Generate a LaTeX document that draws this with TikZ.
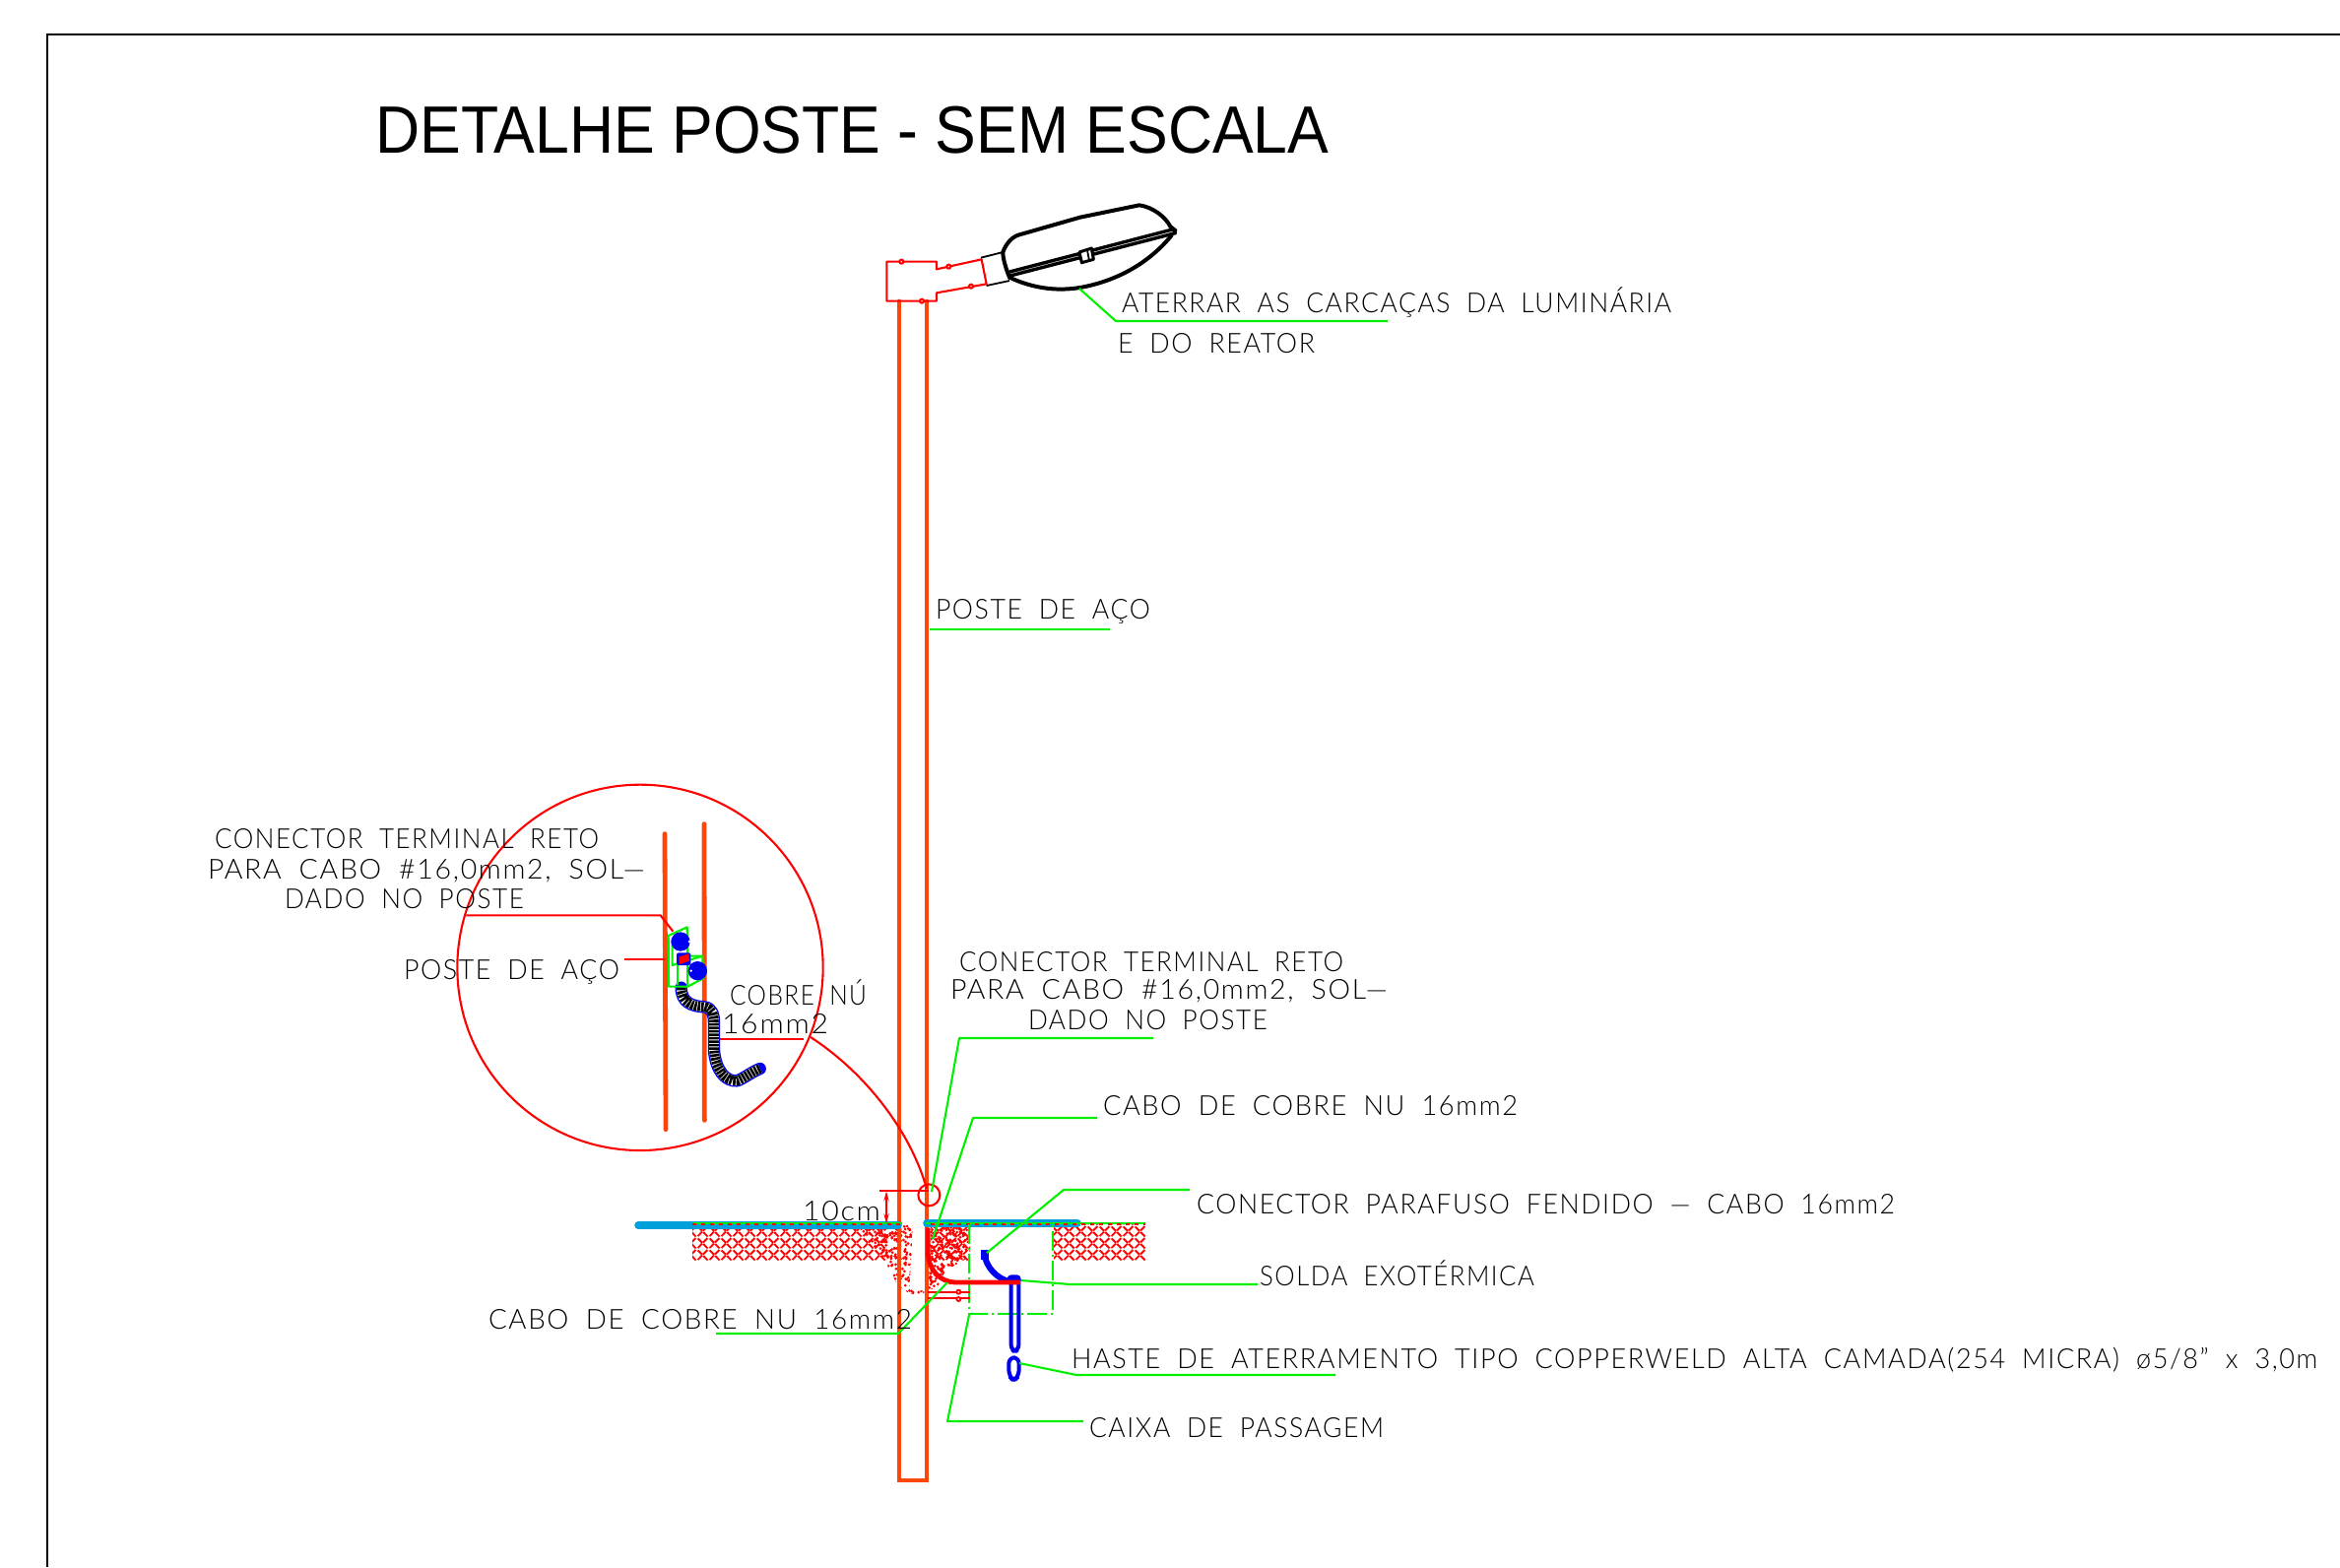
\documentclass[tikz,border=0pt]{standalone}
\usepackage{fontspec}
\usepackage{graphicx}
\usetikzlibrary{patterns,arrows.meta}
\setmainfont{Liberation Sans}
\newfontfamily\cad[WordSpace=1.9,LetterSpace=6]{Lato Light}
\definecolor{orangepole}{RGB}{255,70,10}
\definecolor{leadgreen}{RGB}{0,240,0}
\definecolor{groundblue}{RGB}{0,160,220}
\definecolor{rodblue}{RGB}{0,0,240}
\pgfdeclarepatternformonly{herr}{\pgfpointorigin}{\pgfqpoint{6pt}{6pt}}{\pgfqpoint{6pt}{6pt}}{%
  \pgfsetlinewidth{1pt}%
  \pgfpathmoveto{\pgfqpoint{0.3pt}{0.5pt}}\pgfpathlineto{\pgfqpoint{2.6pt}{2.8pt}}%
  \pgfpathmoveto{\pgfqpoint{5.7pt}{0.3pt}}\pgfpathlineto{\pgfqpoint{3.4pt}{2.6pt}}%
  \pgfpathmoveto{\pgfqpoint{3.3pt}{3.5pt}}\pgfpathlineto{\pgfqpoint{5.6pt}{5.8pt}}%
  \pgfpathmoveto{\pgfqpoint{2.7pt}{3.3pt}}\pgfpathlineto{\pgfqpoint{0.4pt}{5.6pt}}%
  \pgfusepath{stroke}}
\newcommand\cadt[5]{\node[cadtext] (#1) at (#2,#3) {\resizebox{\dimexpr #4pt/2\relax}{\height}{\cad\fontsize{14}{14}\selectfont #5}};}
\tikzset{
  cadtext/.style={anchor=base west,inner sep=0pt,outer sep=0pt,text=black},
  zm/.style 2 args={shift={(#1,#2)},x=0.16667pt,y=-0.16667pt},
  poleline/.style={draw=orangepole,line width=2.4pt,line cap=round},
  redthin/.style={draw=red,line width=1.05pt},
  redbracket/.style={draw=red,line width=1.05pt,line join=round},
  blackthick/.style={draw=black,line width=2pt,line cap=round,line join=round},
  blackthin/.style={draw=black,line width=.9pt},
  leader/.style={draw=leadgreen,line width=1.05pt,line join=round},
  groundline/.style={draw=groundblue,line width=3.8pt,line cap=round},
  rod/.style={draw=rodblue,line width=2pt,line join=round},
  soil/.style={pattern=herr,pattern color=red},
}
\begin{document}
\begin{tikzpicture}[x=0.5pt,y=-0.5pt]
\useasboundingbox (0,0) rectangle (2376,1591);
% frame
\draw[line width=1pt,black] (2376,35) -- (48,35) -- (48,1591);
% title
\node[anchor=base west,inner sep=0pt] (title) at (381,155) {\resizebox{484pt}{\height}{\fontsize{34}{34}\selectfont DETALHE POSTE - SEM ESCALA}};
% ground hatching
\path[soil] (703,1243) rectangle (900,1279);
\path[soil] (945,1243) rectangle (985,1280);
\path[soil] (1070,1243) rectangle (1163,1279);
\pgfmathsetseed{7}
\begin{scope}[zm={880}{1180}]
  \begin{scope}
    \clip (-30,190) -- (140,190) -- (135,300) -- (130,385) -- (175,392) -- (175,405) -- (130,400) -- (95,375) -- (55,300) -- cycle;
    \foreach \i in {1,...,420} {
      \pgfmathsetmacro\xx{-30+205*rnd}
      \pgfmathsetmacro\yy{190+215*rnd}
      \fill[red] (\xx,\yy) circle[radius=4.5];
    }
  \end{scope}
  \begin{scope}
    \clip (178,190) -- (310,190) -- (310,290) -- (240,330) -- (215,380) -- (178,395) -- cycle;
    \foreach \i in {1,...,300} {
      \pgfmathsetmacro\xx{178+132*rnd}
      \pgfmathsetmacro\yy{190+205*rnd}
      \fill[red] (\xx,\yy) circle[radius=4.5];
    }
  \end{scope}
\end{scope}
% pole
\draw[poleline] (913,306) -- (913,1503) -- (941,1503) -- (941,306);
% bracket and luminaire (zoom 1)
\begin{scope}[zm={850}{180}]
  \draw[redbracket] (440,250) -- (303,280) -- (303,257) -- (151,257) -- (151,377) -- (303,377) -- (303,352) -- (455,325) -- cycle;
  \foreach \p in {(196,257),(340,272),(408,332),(258,377)} \draw[redbracket,fill=white] \p circle[radius=6];
  \draw[blackthin] (438,245) -- (505,228) (455,330) -- (525,315);
  \draw[blackthick] (525,305) .. controls (515,280) and (505,250) .. (505,228) .. controls (515,200) and (535,180) .. (555,175) -- (740,122) -- (920,85) .. controls (960,90) and (1000,120) .. (1015,150) -- (1030,162);
  \draw[blackthick] (525,305) .. controls (600,340) and (680,350) .. (760,332) .. controls (860,310) and (950,260) .. (1018,178);
  \draw[blackthick,line width=1.7pt] (525,288) -- (1025,158) -- (1030,170) -- (527,300);
  \draw[blackthick,line width=1.5pt,fill=white] (738,228) -- (775,216) -- (781,250) -- (745,260) -- cycle;
  \draw[blackthin] (762,222) -- (768,254);
\end{scope}
% ground surface
\draw[groundline] (648,1244) -- (912,1244);
\draw[groundline] (941,1242) -- (1094,1242);
\draw[leader] (703,1242) -- (916,1242);
\draw[leader] (940,1242) -- (1163,1242);
\draw[red,line width=1.05pt,dash pattern=on 2pt off 2.5pt] (703,1243) -- (916,1243);
\draw[red,line width=1.05pt,dash pattern=on 2pt off 2.5pt] (945,1243) -- (1163,1243);
% pit, cable, rod (zoom 4)
\begin{scope}[zm={880}{1180}]
  \draw[leadgreen,line width=1.1pt,dash pattern=on 10pt off 2pt on 1pt off 2pt] (313,190) -- (313,463) -- (568,463) -- (568,190);
  \draw[red,line width=1.05pt] (185,395) -- (315,395) (185,415) -- (315,415);
  \foreach \p in {(280,395),(280,417)} \draw[red,line width=.9pt,fill=white] \p circle[radius=6];
  \draw[rodblue,line width=3pt,line cap=round] (358,280) .. controls (365,320) and (395,355) .. (440,365);
  \fill[rodblue] (348,268) rectangle (372,297);
  \draw[rod,rounded corners=3pt] (440,358) -- (440,575) -- (463,575) -- (463,358);
  \fill[rodblue,rounded corners=2pt] (428,343) rectangle (470,372);
  \draw[red,line width=2.4pt] (187,200) -- (187,280) .. controls (190,330) and (225,365) .. (270,366) -- (468,366);
  % small circle and dimension
  \draw[red,line width=1.05pt] (190,100) circle[radius=33];
  \draw[red,line width=1.05pt] (40,88) -- (190,88);
  \draw[red,line width=.8pt,{Stealth[length=5pt,width=2.6pt,open]}-{Stealth[length=5pt,width=2.6pt,open]}] (60,88) -- (60,187);
\end{scope}
\begin{scope}[zm={900}{1300}]
  \draw[rod,rounded corners=3pt] (373,235) -- (404,235) -- (404,290) -- (388,307) -- (373,290) -- cycle;
\end{scope}
% magnified detail (zoom 2)
\begin{scope}[zm={440}{780}]
  \draw[redthin] (630,607) circle[radius=557];
  \draw[poleline] (705,200) -- (708,1100);
  \draw[poleline] (825,170) -- (826,1072);
  \draw[rodblue,line width=6.2pt,line cap=round,line join=round] (755,668) .. controls (755,715) and (790,725) .. (825,727) .. controls (850,730) and (855,750) .. (855,780) -- (855,860) .. controls (860,920) and (890,955) .. (925,952) .. controls (945,945) and (970,925) .. (995,915);
  \draw[white,line width=4.8pt,line cap=butt] (755,668) .. controls (755,715) and (790,725) .. (825,727) .. controls (850,730) and (855,750) .. (855,780) -- (855,860) .. controls (860,920) and (890,955) .. (925,952) .. controls (945,945) and (970,925) .. (995,915);
  \draw[black,line width=4.8pt,dash pattern=on 1.3pt off .45pt] (755,668) .. controls (755,715) and (790,725) .. (825,727) .. controls (850,730) and (855,750) .. (855,780) -- (855,860) .. controls (860,920) and (890,955) .. (925,952) .. controls (945,945) and (970,925) .. (995,915);
  \draw[leader] (716,510) -- (773,484) -- (775,572) -- (820,572) -- (822,640) -- (775,665) -- (717,665) -- cycle;
  \draw[leader] (728,520) -- (728,600) -- (820,572);
  \draw[leader] (745,600) -- (745,660) (775,595) -- (775,665);
  \fill[rodblue] (753,528) circle[radius=29];
  \fill[rodblue] (805,617) circle[radius=29];
  \fill[white] (780,528) circle[radius=4] (785,617) circle[radius=4];
  \fill[rodblue,rounded corners=1pt] (741,562) rectangle (784,600);
  \fill[red] (748,575) -- (778,565) -- (780,587) -- (750,597) -- cycle;
  \draw[redthin] (100,448) -- (692,448) -- (730,497);
  \draw[redthin] (583,582) -- (705,582);
  \draw[redthin] (872,824) -- (1127,824);
\end{scope}
% callout from magnifier to pole
\coordinate (calloutstart) at (823,1053);
\coordinate (calloutend) at (941,1207);
\draw[redthin] (calloutstart) .. controls (880,1090) and (925,1150) .. (calloutend);
% leaders
\draw[leader] (1096,293) -- (1133,326) -- (1409,326);
\draw[leader] (944,639) -- (1127,639);
\draw[leader] (946,1210) -- (974,1054) -- (1171,1054);
\draw[leader] (947,1258) -- (988,1135) -- (1114,1135);
\draw[leader] (1002,1272) -- (1080,1208) -- (1208,1208);
\draw[leader] (1037,1300) -- (1087,1304) -- (1277,1304);
\draw[leader] (1035,1384) -- (1093,1396) -- (1356,1396);
\draw[leader] (984,1335) -- (962,1443) -- (1100,1443);
\draw[leader] (727,1354) -- (912,1354) -- (962,1302);
% texts
\cadt{t1}{1139}{317}{558}{ATERRAR AS CARCAÇAS DA LUMINÁRIA}
\cadt{t2}{1135}{358}{200}{E DO REATOR}
\cadt{t3}{950}{628}{218}{POSTE DE AÇO}
\cadt{t4}{218}{861}{390}{CONECTOR TERMINAL RETO}
\cadt{t5}{211}{892}{444}{PARA CABO \#16,0mm2, SOL—}
\cadt{t6}{289}{922}{243}{DADO NO POSTE}
\cadt{t7}{410}{994}{219}{POSTE DE AÇO}
\cadt{t8}{741}{1020}{139}{COBRE NÚ}
\cadt{t9}{733}{1049}{108}{16mm2}
\cadt{t10}{974}{986}{390}{CONECTOR TERMINAL RETO}
\cadt{t11}{965}{1014}{444}{PARA CABO \#16,0mm2, SOL—}
\cadt{t12}{1044}{1045}{243}{DADO NO POSTE}
\cadt{t13}{1120}{1132}{421}{CABO DE COBRE NU 16mm2}
\cadt{t14}{815}{1239}{79}{10cm}
\cadt{t15}{1215}{1232}{709}{CONECTOR PARAFUSO FENDIDO — CABO 16mm2}
\cadt{t16}{1279}{1305}{279}{SOLDA EXOTÉRMICA}
\cadt{t17}{496}{1349}{430}{CABO DE COBRE NU 16mm2}
\cadt{t18}{1088}{1389}{1265}{HASTE DE ATERRAMENTO TIPO COPPERWELD ALTA CAMADA(254 MICRA) ø5/8” x 3,0m}
\cadt{t19}{1106}{1459}{299}{CAIXA DE PASSAGEM}
\end{tikzpicture}
\end{document}
